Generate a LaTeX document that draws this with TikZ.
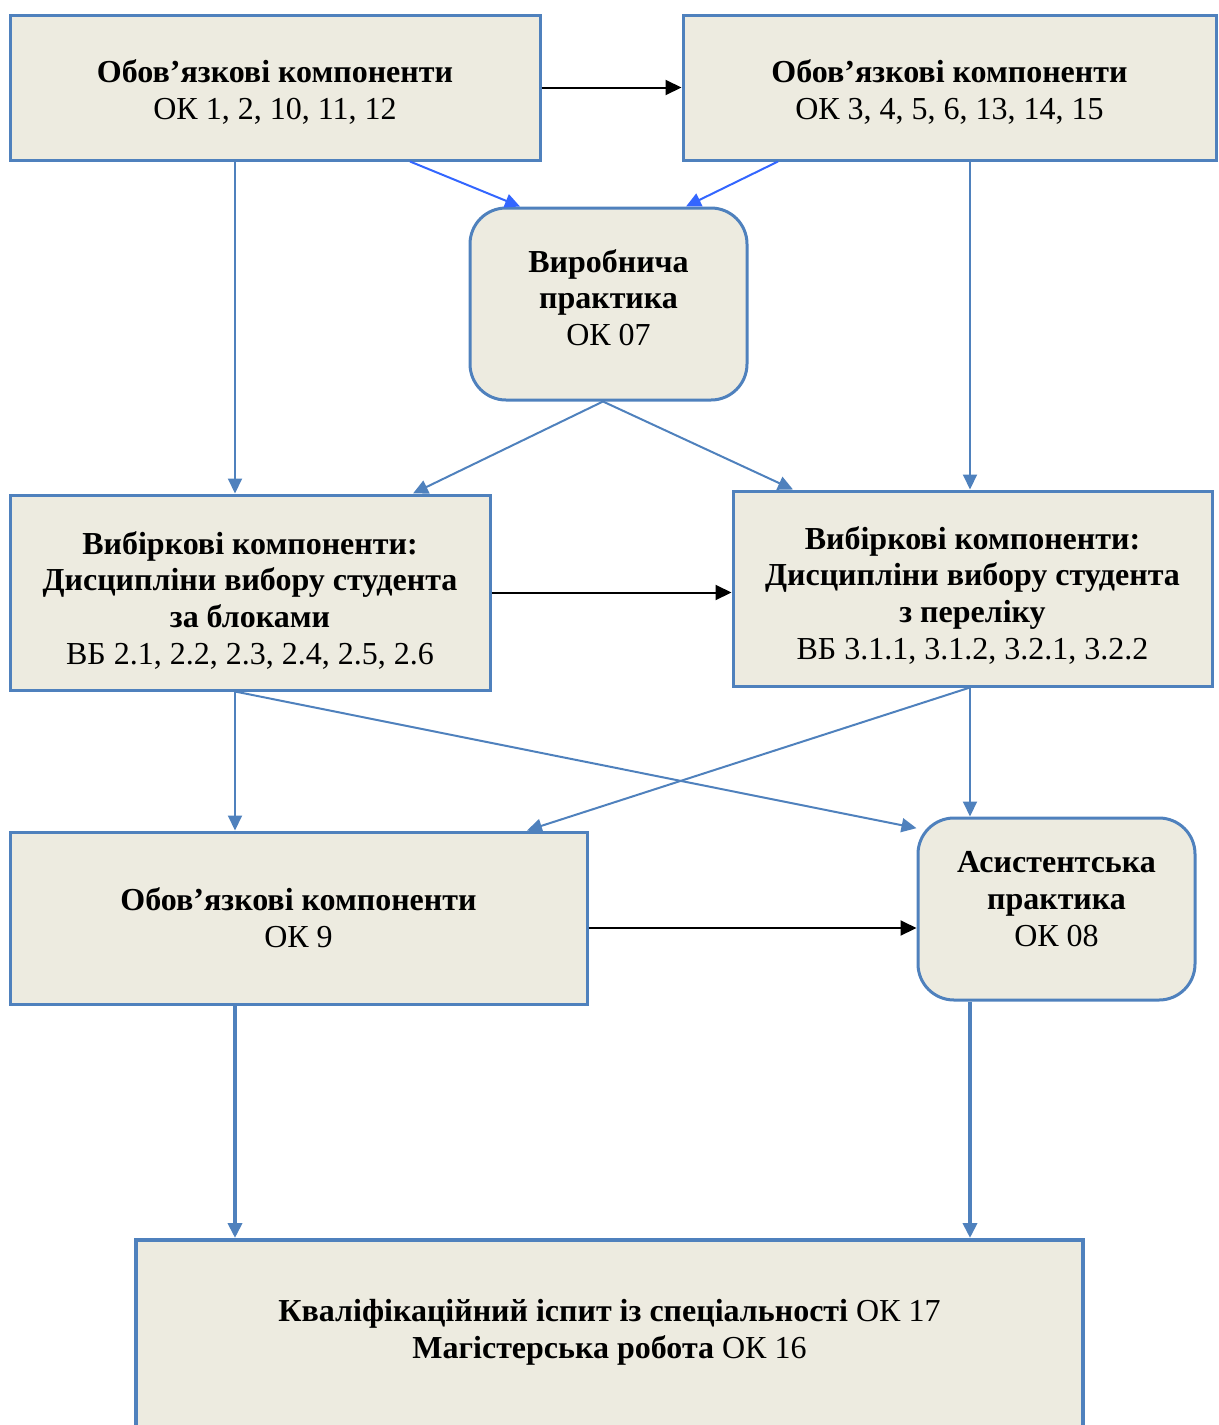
\documentclass[tikz,border=0pt]{standalone}
\usepackage{fontspec}
\setmainfont{Liberation Serif}
\usepackage{tikz}
\usetikzlibrary{arrows.meta}
\definecolor{boxfill}{RGB}{237,235,224}
\definecolor{boxline}{RGB}{79,129,189}
\definecolor{brightblue}{RGB}{51,102,255}

\begin{document}
\begin{tikzpicture}[x=0.5pt,y=-0.5pt,
    box/.style={draw=boxline, line width=1.5pt, fill=boxfill, align=center, inner sep=0pt,
        font=\fontsize{16}{18.4}\selectfont},
    roundbox/.style={box, rounded corners=18pt},
    link/.style={draw=boxline, line width=1pt, -{Triangle[length=7.5pt,width=7pt]}},
    thicklink/.style={link, line width=2pt},
    blacklink/.style={draw=black, line width=1pt, -{Triangle[length=8pt,width=7.5pt]}},
    bluelink/.style={draw=brightblue, line width=1pt, -{Triangle[length=7.5pt,width=7pt]}}]
    \useasboundingbox (0,0) rectangle (1219,1425);
    % boxes
    \node[box, minimum width=265pt, minimum height=72.5pt, text height=34pt] (ob1) at (275,87.5)
        {\textbf{Обов’язкові компоненти}\\ОК 1, 2, 10, 11, 12};
    \node[box, minimum width=266.5pt, minimum height=72.5pt, text height=34pt] (ob2) at (949.5,87.5)
        {\textbf{Обов’язкові компоненти}\\ОК 3, 4, 5, 6, 13, 14, 15};
    \node[roundbox, minimum width=138.5pt, minimum height=96pt, text depth=6.5pt] (vyr) at (608.5,304)
        {\textbf{Виробнича}\\\textbf{практика}\\ОК 07};
    \node[box, minimum width=240pt, minimum height=97.5pt, text height=74.5pt] (vb1) at (250,592.5)
        {\textbf{Вибіркові компоненти:}\\\textbf{Дисципліни вибору студента}\\\textbf{за блоками}\\ВБ 2.1, 2.2, 2.3, 2.4, 2.5, 2.6};
    \node[box, minimum width=239.5pt, minimum height=97.5pt, text height=73.5pt] (vb2) at (972.5,588.5)
        {\textbf{Вибіркові компоненти:}\\\textbf{Дисципліни вибору студента}\\\textbf{з переліку}\\ВБ 3.1.1, 3.1.2, 3.2.1, 3.2.2};
    \node[box, minimum width=288.5pt, minimum height=86pt] (ob3) at (298.5,918)
        {\textbf{Обов’язкові компоненти}\\ОК 9};
    \node[roundbox, minimum width=138.5pt, minimum height=91pt, text depth=10pt] (asyst) at (1056.5,909)
        {\textbf{Асистентська}\\\textbf{практика}\\ОК 08};
    \node[box, line width=2pt, minimum width=473.5pt, minimum height=107pt, anchor=north] (kval) at (609.5,1238)
        {\textbf{Кваліфікаційний іспит із спеціальності} ОК 17\\\textbf{Магістерська робота} ОК 16\\~};
    % connectors
    \draw[blacklink] (ob1.east) -- (ob2.west);
    \draw[bluelink] ([xshift=67.5pt]ob1.south) -- ([xshift=-44.25pt]vyr.north);
    \draw[bluelink] ([xshift=-85.75pt]ob2.south) -- ([xshift=38.75pt]vyr.north);
    \draw[link] ([xshift=-20pt]ob1.south) -- ([xshift=-20pt]ob1.south |- vb1.north);
    \draw[link] ([xshift=10.25pt]ob2.south) -- ([xshift=10.25pt]ob2.south |- vb2.north);
    \draw[link] ([xshift=-2.75pt]vyr.south) -- ([xshift=81.5pt]vb1.north);
    \draw[link] ([xshift=-2.75pt]vyr.south) -- ([xshift=-89.75pt]vb2.north);
    \draw[blacklink] (vb1.east) -- (vb1.east -| vb2.west);
    \draw[link] ([xshift=-7.5pt]vb1.south) -- ([xshift=-7.5pt]vb1.south |- ob3.north);
    \draw[link] ([xshift=-7.5pt]vb1.south) -- (asyst.150);
    \draw[link] ([xshift=-1.25pt]vb2.south) -- ([xshift=114.25pt]ob3.north);
    \draw[link] ([xshift=-1.25pt]vb2.south) -- ([xshift=-1.25pt]vb2.south |- asyst.north);
    \draw[blacklink] ([yshift=-5pt]ob3.east) -- ([yshift=-5pt]ob3.east -| asyst.west);
    \draw[thicklink] ([xshift=-31.75pt]ob3.south) -- ([xshift=-31.75pt]ob3.south |- kval.north);
    \draw[thicklink] ([xshift=-43.25pt]asyst.south) -- ([xshift=-43.25pt]asyst.south |- kval.north);
\end{tikzpicture}
\end{document}
